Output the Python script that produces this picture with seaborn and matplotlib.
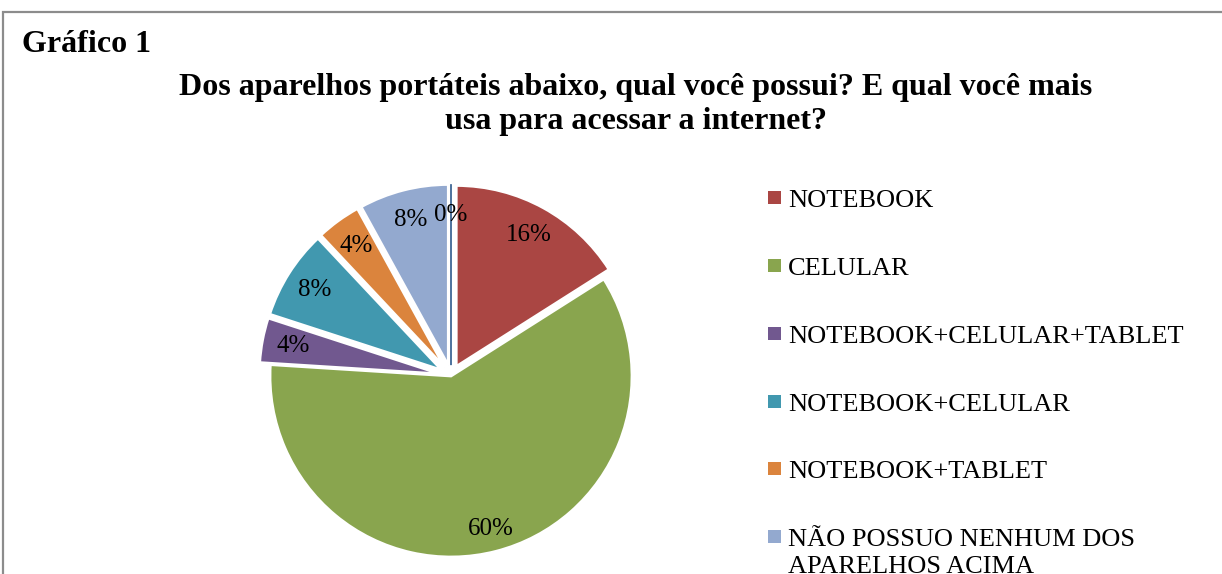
import numpy as np
import pandas as pd
import matplotlib
matplotlib.use("Agg")
import matplotlib.pyplot as plt
import seaborn as sns
from matplotlib.patches import Rectangle

# respostas (contagens) por aparelho, na ordem do grafico
categorias = ["NOTEBOOK", "CELULAR", "NOTEBOOK+CELULAR+TABLET", "NOTEBOOK+CELULAR",
              "NOTEBOOK+TABLET", "NÃO POSSUO NENHUM DOS\nAPARELHOS ACIMA", "TABLET"]
respostas = [4, 15, 1, 2, 1, 2, 0]
cores = ["#AA4643", "#89A54E", "#71588F", "#4198AF", "#DB843D", "#93A9CF", "#2F5A8C"]
destaque = [0.06, 0.0, 0.06, 0.06, 0.06, 0.06, 0.06]

df = pd.DataFrame({"aparelho": categorias, "n": respostas, "cor": cores})

sns.set_style("white")
plt.rcParams["font.family"] = ["Liberation Serif", "DejaVu Serif"]
plt.rcParams["text.color"] = "black"

W, H = 1222, 574
fig = plt.figure(figsize=(W / 100, H / 100), dpi=100)

def fx(px):
    return px / W

def fy(py):
    return 1 - py / H

# moldura cinza (cortada a direita e embaixo)
fig.patches.append(Rectangle((fx(3), -0.1), 1.2, fy(12) + 0.1, transform=fig.transFigure,
                             fill=False, edgecolor="#8c8c8c", linewidth=1.6, clip_on=False))

fig.text(fx(22), fy(45), "Gráfico 1", fontsize=23, fontweight="bold", va="center", ha="left")
fig.text(fx(636), fy(87), "Dos aparelhos portáteis abaixo, qual você possui? E qual você mais",
         fontsize=23, fontweight="bold", va="center", ha="center")
fig.text(fx(636), fy(122), "usa para acessar a internet?",
         fontsize=23, fontweight="bold", va="center", ha="center")

# pizza
cx, cy, r = 451, 376, 181
ax = fig.add_axes([fx(cx - r), fy(cy + r), (2 * r) / W, (2 * r) / H])
wedges, texts, autotexts = ax.pie(df["n"], colors=df["cor"], startangle=90, counterclock=False,
                                  explode=destaque, autopct="%.0f%%", pctdistance=0.83,
                                  wedgeprops=dict(edgecolor="white", linewidth=2),
                                  textprops=dict(fontsize=18, color="black"))
# rotulo da fatia sem destaque fica um pouco mais para fora
px, py = autotexts[1].get_position()
autotexts[1].set_position((px * 0.875 / 0.83, py * 0.875 / 0.83))
wedges[-1].set_edgecolor(cores[-1])
wedges[-1].set_linewidth(1.2)
for w in wedges:
    w.set_clip_on(False)
ax.set_xlim(-1, 1)
ax.set_ylim(-1, 1)
ax.axis("off")

# legenda (so as entradas visiveis; a ultima sai cortada como no original)
leg_y = [198, 266, 334, 402, 469, 537]
for i, yy in enumerate(leg_y):
    fig.patches.append(Rectangle((fx(768), fy(yy + 6)), 13 / W, 13 / H, transform=fig.transFigure,
                                 facecolor=cores[i], edgecolor="none"))
    fig.text(fx(788), fy(yy - 8), categorias[i], fontsize=19, va="top", ha="left",
             linespacing=1.3)

fig.savefig("out.png", dpi=100)
